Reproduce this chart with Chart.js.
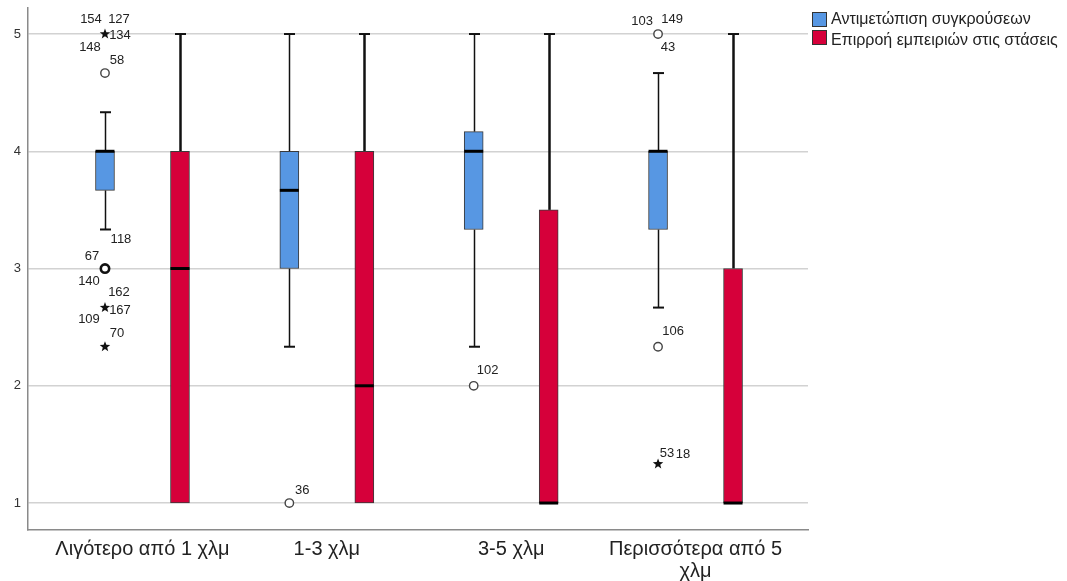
<!DOCTYPE html>
<html>
<head>
<meta charset="utf-8">
<script src="https://cdn.jsdelivr.net/npm/chart.js@4/dist/chart.umd.min.js"></script>
<style>
html,body{margin:0;padding:0;background:#fff;overflow:hidden;}
#wrap{width:1067px;height:581px;position:relative;}
</style>
</head>
<body>
<div id="wrap"><canvas id="c" width="1067" height="581"></canvas></div>
<script>
// ---------- DATA ----------
const categories = ['Λιγότερο από 1 χλμ', '1-3 χλμ', '3-5 χλμ', 'Περισσότερα από 5 χλμ'];
const seriesNames = ['Αντιμετώπιση συγκρούσεων', 'Επιρροή εμπειριών στις στάσεις'];
const yTicks = [1, 2, 3, 4, 5];

// Series 1: Αντιμετώπιση συγκρούσεων
const conflictLow    = [3.333, 2.333, 2.333, 2.667];
const conflictQ1     = [3.667, 3.000, 3.333, 3.333];
const conflictMedian = [4.000, 3.667, 4.000, 4.000];
const conflictQ3     = [4.000, 4.000, 4.167, 4.000];
const conflictHigh   = [4.333, 5.000, 5.000, 4.667];

// Series 2: Επιρροή εμπειριών στις στάσεις
const influenceLow    = [1, 1, 1, 1];
const influenceQ1     = [1, 1, 1, 1];
const influenceMedian = [3, 2, 1, 1];
const influenceQ3     = [4, 4, 3.5, 3];
const influenceHigh   = [5, 5, 5, 5];

// Outliers of series 1 (kind: 'o' = circle, 'e' = extreme star, 'O' = several circles)
const conflictOutlierCat   = [0, 0, 0, 0, 0, 1, 2, 3, 3, 3];
const conflictOutlierValue = [5, 4.667, 3, 2.667, 2.333, 1, 2, 5, 2.333, 1.333];
const conflictOutlierKind  = ['e', 'o', 'O', 'e', 'e', 'o', 'o', 'o', 'o', 'e'];
const conflictOutlierIds   = [
  ['154', '127', '134', '148'],
  ['58'],
  ['118', '67', '140'],
  ['162', '167', '109'],
  ['70'],
  ['36'],
  ['102'],
  ['103', '149', '43'],
  ['106'],
  ['53', '18']
];

// ---------- STYLE / LAYOUT (not data) ----------
const FONT = "'Liberation Sans', Arial, sans-serif";
const seriesColors = ['#5797E3', '#D6003A'];
const seriesOffset = [-0.2034, 0.2034];
// label offsets (px) relative to marker, per outlier group, per id
const labelOffsets = [
  [[-14, -15], [14, -15], [15, 1], [-15, 13]],
  [[12, -13]],
  [[16, -29], [-13, -12], [-16, 13]],
  [[14, -15], [15, 3], [-16, 12]],
  [[12, -13]],
  [[13, -13]],
  [[14, -15]],
  [[-16, -13], [14, -15], [10, 13]],
  [[15, -15]],
  [[9, -11], [25, -10]]
];

const boxes = [
  {low: conflictLow, q1: conflictQ1, med: conflictMedian, q3: conflictQ3, high: conflictHigh},
  {low: influenceLow, q1: influenceQ1, med: influenceMedian, q3: influenceQ3, high: influenceHigh}
];

function wrapLabel(s) {
  if (s.length > 20) {
    const k = s.lastIndexOf(' ');
    return [s.slice(0, k), s.slice(k + 1)];
  }
  return s;
}

function drawStar(ctx, x, y, r) {
  ctx.beginPath();
  for (let i = 0; i < 10; i++) {
    const rr = i % 2 === 0 ? r : r * 0.42;
    const a = -Math.PI / 2 + i * Math.PI / 5;
    const px = x + rr * Math.cos(a), py = y + rr * Math.sin(a);
    if (i === 0) ctx.moveTo(px, py); else ctx.lineTo(px, py);
  }
  ctx.closePath();
  ctx.fillStyle = '#111';
  ctx.fill();
}

const boxPlugin = {
  id: 'boxplot',
  beforeDatasetsDraw(chart) {
    const xs = chart.scales.x, ys = chart.scales.y, ctx = chart.ctx;
    ctx.save();
    boxes.forEach((b, s) => {
      categories.forEach((c, i) => {
        const x = Math.round(xs.getPixelForValue(i + seriesOffset[s])) + 0.5;
        ctx.strokeStyle = '#111';
        const lw = s === 0 ? 1.5 : 2.5;
        const segs = [[b.q3[i], b.high[i]], [b.q1[i], b.low[i]]];
        segs.forEach(([from, to]) => {
          if (to === from) return;
          const y1 = ys.getPixelForValue(from), y2 = ys.getPixelForValue(to);
          ctx.lineWidth = lw;
          ctx.beginPath(); ctx.moveTo(x, y1); ctx.lineTo(x, y2); ctx.stroke();
          ctx.lineWidth = 2;
          ctx.beginPath(); ctx.moveTo(x - 5.5, y2); ctx.lineTo(x + 5.5, y2); ctx.stroke();
        });
      });
    });
    ctx.restore();
  },
  afterDatasetsDraw(chart) {
    const xs = chart.scales.x, ys = chart.scales.y, ctx = chart.ctx;
    ctx.save();
    // medians
    boxes.forEach((b, s) => {
      categories.forEach((c, i) => {
        const x = xs.getPixelForValue(i + seriesOffset[s]);
        const y = ys.getPixelForValue(b.med[i]);
        ctx.strokeStyle = '#000';
        ctx.lineWidth = 3;
        ctx.beginPath(); ctx.moveTo(x - 9.5, y); ctx.lineTo(x + 9.5, y); ctx.stroke();
      });
    });
    // outliers
    ctx.font = '13px ' + FONT;
    ctx.textAlign = 'center';
    ctx.textBaseline = 'middle';
    conflictOutlierCat.forEach((cat, k) => {
      const x = xs.getPixelForValue(cat + seriesOffset[0]);
      const y = ys.getPixelForValue(conflictOutlierValue[k]);
      const kind = conflictOutlierKind[k];
      if (kind === 'e') {
        drawStar(ctx, x, y, 5.5);
      } else {
        ctx.beginPath();
        ctx.arc(x, y, 4.2, 0, Math.PI * 2);
        ctx.fillStyle = '#fff';
        ctx.fill();
        ctx.strokeStyle = kind === 'O' ? '#111' : '#444';
        ctx.lineWidth = kind === 'O' ? 2.6 : 1.4;
        ctx.stroke();
      }
      ctx.fillStyle = '#222';
      conflictOutlierIds[k].forEach((id, j) => {
        const off = labelOffsets[k][j];
        ctx.fillText(id, x + off[0], y + off[1]);
      });
    });
    ctx.restore();
  },
  afterDraw(chart) {
    const ctx = chart.ctx;
    ctx.save();
    ctx.font = '16px ' + FONT;
    ctx.textAlign = 'left';
    ctx.textBaseline = 'middle';
    chart.data.datasets.forEach((ds, s) => {
      const bx = 812, by = 12 + s * 18;
      ctx.fillStyle = ds.backgroundColor;
      ctx.fillRect(bx, by, 15, 15);
      ctx.strokeStyle = '#333';
      ctx.lineWidth = 1;
      ctx.strokeRect(bx + 0.5, by + 0.5, 14, 14);
      ctx.fillStyle = '#222';
      ctx.fillText(ds.label, 831, 20 + s * 21);
    });
    ctx.restore();
  }
};

const datasets = boxes.map((b, s) => ({
  type: 'bar',
  label: seriesNames[s],
  data: categories.map((c, i) => ({x: i + seriesOffset[s], y: [b.q1[i], b.q3[i]]})),
  backgroundColor: seriesColors[s],
  borderColor: '#3a3a3a',
  borderWidth: 1,
  borderSkipped: false,
  barThickness: 19,
  grouped: false
}));

new Chart(document.getElementById('c'), {
  type: 'bar',
  data: {datasets},
  plugins: [boxPlugin],
  options: {
    responsive: false,
    animation: false,
    devicePixelRatio: 1,
    layout: {padding: {top: 8, right: 259, left: 0, bottom: 0}},
    plugins: {legend: {display: false}, tooltip: {enabled: false}},
    scales: {
      x: {
        type: 'linear',
        min: -0.621,
        max: 3.61,
        offset: false,
        grid: {display: false, drawTicks: false},
        border: {color: '#8a8a8a', width: 1.5},
        afterBuildTicks: (sc) => { sc.ticks = categories.map((c, i) => ({value: i})); },
        afterFit: (sc) => { sc.height = 51; sc.paddingLeft = 0; sc.paddingRight = 0; },
        ticks: {
          autoSkip: false,
          maxRotation: 0,
          padding: 8,
          color: '#222',
          font: {family: FONT, size: 20, lineHeight: 1.1},
          callback: (v) => wrapLabel(categories[v])
        }
      },
      y: {
        type: 'linear',
        min: 0.77,
        max: 5.222,
        grid: {color: '#d2d2d2', lineWidth: 1.5, drawTicks: false},
        border: {color: '#8a8a8a', width: 1.5},
        afterBuildTicks: (sc) => { sc.ticks = yTicks.map(v => ({value: v})); },
        afterFit: (sc) => { sc.width = 28; sc.paddingTop = 0; sc.paddingBottom = 0; },
        ticks: {
          padding: 7,
          color: '#333',
          font: {family: FONT, size: 13}
        }
      }
    }
  }
});
</script>
</body>
</html>
